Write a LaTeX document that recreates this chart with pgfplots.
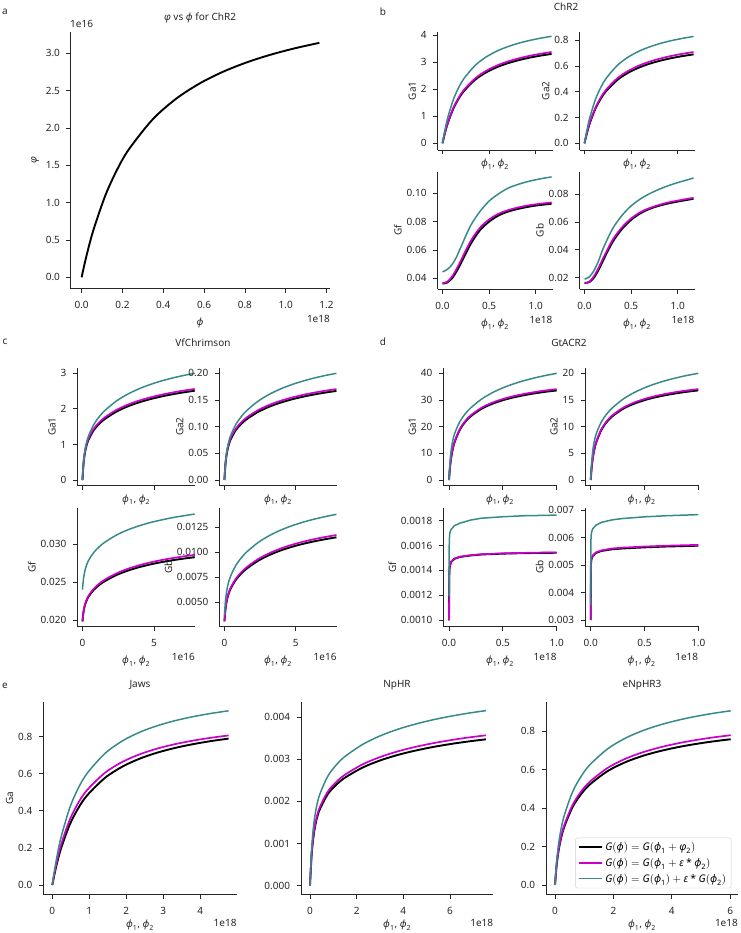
\documentclass[border=0pt]{standalone}
\usepackage{fontspec}
\setmainfont{Noto Sans}
\usepackage{amsmath}
\usepackage{pgfplots}
\usepackage{pgfplotstable}
\pgfplotsset{compat=1.18}
\newcommand{\tf}{\fontsize{10}{12}\selectfont}
\newcommand{\gi}[1]{\text{\itshape #1}}
\definecolor{mag}{RGB}{204,0,204}
\definecolor{tealc}{RGB}{56,138,138}
\definecolor{ax}{RGB}{38,38,38}
\pgfplotsset{
  base/.style={
    scale only axis, anchor=south west,
    axis x line*=bottom, axis y line*=left,
    tick align=outside, major tick length=4.5pt,
    every tick/.style={ax, line width=0.8pt},
    axis line style={ax, line width=0.9pt},
    tick label style={font=\tf, text=ax},
    xticklabel style={yshift=-5pt},
    yticklabel style={xshift=-3pt},
    label style={font=\tf, text=ax},
    xlabel style={yshift=-2.5pt},
    ylabel style={yshift=-2pt},
    scaled ticks=false, clip=false,
    xlabel={$\gi{ϕ}_{\text{1}}\text{, }\gi{ϕ}_{\text{2}}$},
  },
  top/.style={xticklabel=\empty, xlabel style={yshift=13pt}},
  bot/.style={xlabel style={yshift=4pt}},
  k/.style={black, line width=1.9pt, smooth},
  m/.style={mag, line width=1.7pt, smooth},
  t/.style={tealc, line width=1.5pt, smooth},
}
\newcommand{\xoff}[1]{\node[anchor=north east, inner sep=0pt, font=\tf, text=ax] at (rel axis cs:1,0) [yshift=-27pt] {#1};}
\newcommand{\xoffe}[1]{\node[anchor=north east, inner sep=0pt, font=\tf, text=ax] at (rel axis cs:1,0) [yshift=-25pt] {#1};}

\pgfplotstableread{
x y
0 0
0.01165 0.1465
0.0291 0.3470
0.0583 0.6381
0.1165 1.0989
0.1748 1.4473
0.233 1.7200
0.3495 2.1193
0.466 2.3976
0.5825 2.6026
0.699 2.7600
0.8155 2.8846
0.932 2.9857
1.0485 3.0693
1.165 3.1397
}\tabA

\pgfplotstableread{
x k m t
0 0 0 0
0.0117 0.1815 0.1854 0.2350
0.02925 0.4248 0.4338 0.5466
0.0585 0.7679 0.7842 0.9793
0.117 1.2881 1.3154 1.6209
0.1755 1.6638 1.6991 2.0738
0.234 1.9478 1.9891 2.4105
0.351 2.3489 2.3987 2.8779
0.468 2.6184 2.6739 3.1868
0.585 2.8120 2.8716 3.4062
0.702 2.9578 3.0205 3.5700
0.819 3.0716 3.1368 3.6970
0.936 3.1628 3.2299 3.7984
1.053 3.2376 3.3063 3.8811
1.17 3.3000 3.3700 3.9500
}\bGaA

\pgfplotstableread{
x k m t
0 0 0 0
0.0117 0.0380 0.0390 0.0494
0.02925 0.0889 0.0912 0.1149
0.0585 0.1608 0.1650 0.2058
0.117 0.2697 0.2767 0.3406
0.1755 0.3484 0.3575 0.4358
0.234 0.4079 0.4185 0.5065
0.351 0.4918 0.5046 0.6047
0.468 0.5483 0.5626 0.6696
0.585 0.5888 0.6041 0.7157
0.702 0.6193 0.6354 0.7502
0.819 0.6432 0.6600 0.7769
0.936 0.6623 0.6796 0.7982
1.053 0.6779 0.6956 0.8155
1.17 0.6910 0.7090 0.8300
}\bGaB

\pgfplotstableread{
x k m t
0 0.0362 0.0365 0.0445
0.05 0.0370 0.0375 0.0462
0.1 0.0398 0.0410 0.0495
0.15 0.0448 0.0465 0.0550
0.2 0.0510 0.0530 0.0625
0.3 0.0640 0.0660 0.0770
0.4 0.0738 0.0755 0.0870
0.5 0.0800 0.0815 0.0945
0.6 0.0843 0.0855 0.0995
0.7 0.0870 0.0880 0.1035
0.8 0.0888 0.0898 0.1060
0.9 0.0902 0.0912 0.1080
1.0 0.0913 0.0922 0.1095
1.1 0.0921 0.0930 0.1108
1.17 0.0926 0.0935 0.1115
}\bGf

\pgfplotstableread{
x k m t
0 0.0163 0.0160 0.0190
0.05 0.0168 0.0170 0.0205
0.1 0.0200 0.0210 0.0250
0.15 0.0255 0.0270 0.0320
0.2 0.0325 0.0340 0.0410
0.3 0.0455 0.0470 0.0550
0.4 0.0548 0.0560 0.0645
0.5 0.0615 0.0625 0.0715
0.6 0.0662 0.0670 0.0765
0.7 0.0694 0.0700 0.0803
0.8 0.0716 0.0722 0.0834
0.9 0.0733 0.0740 0.0860
1.0 0.0746 0.0753 0.0882
1.1 0.0758 0.0765 0.0901
1.17 0.0766 0.0773 0.0915
}\bGb

\pgfplotstableread{
x k m t
0 0 0 0
0.0785 0.4730 0.4899 0.5044
0.19625 0.8158 0.8441 0.8780
0.3925 1.1034 1.1398 1.2027
0.785 1.3987 1.4411 1.5542
1.1775 1.5808 1.6255 1.7809
1.57 1.7166 1.7627 1.9541
2.355 1.9180 1.9654 2.2154
3.14 2.0650 2.1131 2.4085
3.925 2.1790 2.2276 2.5594
4.71 2.2708 2.3195 2.6811
5.495 2.3461 2.3950 2.7814
6.28 2.4095 2.4587 2.8659
7.065 2.4636 2.5128 2.9381
7.85 2.5100 2.5593 3.0003
}\cGaA

\pgfplotstableread{
x k m t
0 0 0 0
0.0785 0.03147 0.03263 0.03363
0.19625 0.05428 0.05622 0.05854
0.3925 0.07341 0.07591 0.08018
0.785 0.09306 0.09598 0.10362
1.1775 0.10517 0.10826 0.11873
1.57 0.11421 0.11740 0.13028
2.355 0.12760 0.13090 0.14770
3.14 0.13738 0.14073 0.16057
3.925 0.14497 0.14836 0.17063
4.71 0.15108 0.15448 0.17875
5.495 0.15609 0.15951 0.18544
6.28 0.16031 0.16375 0.19107
7.065 0.16390 0.16735 0.19588
7.85 0.16699 0.17045 0.20000
}\cGaB

\pgfplotstableread{
x k m t
0 0.0198 0.0198 0.02400
0.0785 0.021108 0.021154 0.02554
0.19625 0.022094 0.022175 0.02670
0.3925 0.022976 0.023089 0.02774
0.785 0.023969 0.024116 0.02891
1.1775 0.024630 0.024800 0.02968
1.57 0.025141 0.025330 0.03028
2.355 0.025922 0.026138 0.03120
3.14 0.026503 0.026740 0.03189
3.925 0.026960 0.027212 0.03242
4.71 0.027328 0.027594 0.03286
5.495 0.027632 0.027908 0.03321
6.28 0.027889 0.028174 0.03352
7.065 0.028108 0.028401 0.03377
7.85 0.028300 0.028600 0.03400
}\cGf

\pgfplotstableread{
x k m t
0 0.0031 0.0031 0.0037
0.0785 0.004393 0.004428 0.005254
0.19625 0.005367 0.005429 0.006426
0.3925 0.006239 0.006325 0.007474
0.785 0.007220 0.007333 0.008654
1.1775 0.007873 0.008004 0.009439
1.57 0.008379 0.008523 0.010047
2.355 0.009150 0.009315 0.010974
3.14 0.009724 0.009906 0.011665
3.925 0.010175 0.010369 0.012207
4.71 0.010540 0.010744 0.012646
5.495 0.010840 0.011052 0.013006
6.28 0.011093 0.011312 0.013311
7.065 0.011310 0.011535 0.013572
7.85 0.011500 0.011730 0.013800
}\cGb

\pgfplotstableread{
x k m t
0 0 0 0
0.01 5.181 5.258 7.316
0.025 9.596 9.739 12.644
0.05 13.937 14.145 17.16
0.1 18.826 19.106 21.86
0.15 21.78 22.104 24.796
0.2 23.853 24.208 27.0
0.3 26.675 27.072 30.284
0.4 28.56 28.985 32.692
0.5 29.941 30.387 34.564
0.6 31.0 31.461 36.068
0.7 31.843 32.317 37.308
0.8 32.538 33.022 38.352
0.9 33.116 33.609 39.244
1.0 33.6 34.1 40.0
}\dGaA

\pgfplotstableread{
x k m t
0 0 0 0
0.01 2.591 2.629 3.658
0.025 4.798 4.869 6.322
0.05 6.969 7.072 8.58
0.1 9.413 9.553 10.93
0.15 10.89 11.052 12.398
0.2 11.927 12.104 13.5
0.3 13.338 13.536 15.142
0.4 14.28 14.493 16.346
0.5 14.971 15.193 17.282
0.6 15.5 15.73 18.034
0.7 15.922 16.158 18.654
0.8 16.269 16.511 19.176
0.9 16.558 16.804 19.622
1.0 16.8 17.05 20.0
}\dGaB

\pgfplotstableread{
x k m t
0 0.000998 0.0010 0.00119
0.002 0.001348 0.00135 0.00160
0.005 0.001418 0.00142 0.00168
0.01 0.001443 0.001445 0.00171
0.02 0.001468 0.00147 0.00173
0.05 0.001493 0.001495 0.00176
0.1 0.001508 0.00151 0.00178
0.2 0.00152 0.001522 0.001805
0.3 0.001528 0.00153 0.00182
0.5 0.001535 0.001537 0.001832
0.7 0.001539 0.001541 0.00184
1.0 0.001542 0.001545 0.001845
}\dGf

\pgfplotstableread{
x k m t
0 0.0030 0.0030 0.00355
0.002 0.00498 0.0050 0.0059
0.005 0.00516 0.00518 0.0061
0.01 0.00525 0.00527 0.00622
0.02 0.00533 0.00535 0.00632
0.05 0.00544 0.00546 0.00645
0.1 0.00551 0.00553 0.00655
0.2 0.00557 0.00560 0.00664
0.3 0.00560 0.00563 0.00669
0.5 0.00564 0.00567 0.00675
0.7 0.00567 0.00570 0.00679
1.0 0.00570 0.00573 0.00683
}\dGb

\pgfplotstableread{
x k m t
0 0 0 0
0.0477 0.04801 0.05372 0.06414
0.11925 0.11145 0.12370 0.14736
0.2385 0.19918 0.21864 0.25962
0.477 0.32848 0.35478 0.41939
0.7155 0.41917 0.44769 0.52761
0.954 0.48631 0.51516 0.60578
1.431 0.57906 0.60655 0.71113
1.908 0.64010 0.66559 0.77886
2.385 0.68332 0.70688 0.82607
2.862 0.71553 0.73737 0.86084
3.339 0.74046 0.76080 0.88753
3.816 0.76032 0.77940 0.90866
4.293 0.77654 0.79450 0.92581
4.77 0.79000 0.80700 0.94000
}\eJaws

\pgfplotstableread{
x k m t
0 0 0 0
0.0754 0.000773 0.000794 0.000925
0.1885 0.001318 0.001354 0.001577
0.377 0.001754 0.001802 0.002098
0.754 0.002166 0.002225 0.002590
1.131 0.002400 0.002466 0.002871
1.508 0.002568 0.002638 0.003072
2.262 0.002807 0.002883 0.003357
3.016 0.002976 0.003057 0.003560
3.77 0.003106 0.003191 0.003716
4.524 0.003209 0.003297 0.003839
5.278 0.003294 0.003384 0.003941
6.032 0.003365 0.003457 0.004025
6.786 0.003425 0.003519 0.004097
7.54 0.003476 0.003571 0.004158
}\eNp

\pgfplotstableread{
x k m t
0 0 0 0
0.0602 0.1100 0.1130 0.1315
0.1505 0.2029 0.2085 0.2425
0.301 0.2955 0.3037 0.3533
0.602 0.4047 0.4159 0.4838
0.903 0.4738 0.4870 0.5664
1.204 0.5235 0.5381 0.6259
1.806 0.5920 0.6084 0.7077
2.408 0.6377 0.6554 0.7624
3.01 0.6709 0.6895 0.8020
3.612 0.6961 0.7154 0.8322
4.214 0.7161 0.7360 0.8561
4.816 0.7323 0.7526 0.8755
5.418 0.7458 0.7665 0.8916
6.02 0.7570 0.7780 0.9050
}\eNpT

\newcommand{\three}[1]{%
  \addplot[k] table[x=x,y=k]{#1};
  \addplot[m] table[x=x,y=m]{#1};
  \addplot[t] table[x=x,y=t]{#1};
}
\newcommand{\threesharp}[1]{%
  \addplot[k, sharp plot] table[x=x,y=k]{#1};
  \addplot[m, sharp plot] table[x=x,y=m]{#1};
  \addplot[t, sharp plot] table[x=x,y=t]{#1};
}

\begin{document}
\begin{tikzpicture}
\path[use as bounding box] (0,0) rectangle (740pt,-933pt);

% ---------- a ----------
\begin{axis}[base, at={(70pt,-288pt)}, width=260pt, height=256pt,
  xmin=-0.057, xmax=1.217, ymin=-0.143, ymax=3.285,
  xtick={0,0.2,0.4,0.6,0.8,1.0,1.2}, xticklabels={0.0,0.2,0.4,0.6,0.8,1.0,1.2},
  ytick={0,0.5,1,1.5,2,2.5,3}, yticklabels={0.0,0.5,1.0,1.5,2.0,2.5,3.0},
  yticklabel style={xshift=1pt}, ylabel style={yshift=2pt},
  xlabel={\itshape ϕ}, ylabel={\itshape φ}]
\addplot[black, line width=1.9pt, smooth] table[x=x,y=y]{\tabA};
\xoff{1e18}
\node[anchor=south west, inner sep=0pt, font=\tf, text=ax] at (rel axis cs:0,1) [yshift=4pt] {1e16};
\end{axis}

% ---------- b ----------
\begin{axis}[base, top, at={(437.5pt,-150pt)}, width=115pt, height=118.3pt,
  xmin=-0.054, xmax=1.18, ymin=-0.25, ymax=4.12,
  xtick={0,0.5,1},
  ytick={0,1,2,3,4}, yticklabels={0,1,2,3,4}, ylabel={Ga1}]
\three{\bGaA}
\end{axis}
\begin{axis}[base, top, at={(579.5pt,-150pt)}, width=115pt, height=118.3pt,
  xmin=-0.054, xmax=1.18, ymin=-0.052, ymax=0.867,
  xtick={0,0.5,1},
  ytick={0,0.2,0.4,0.6,0.8}, yticklabels={0.0,0.2,0.4,0.6,0.8}, ylabel={Ga2}]
\three{\bGaB}
\end{axis}
\begin{axis}[base, at={(437.5pt,-289.3pt)}, width=115pt, height=117.6pt,
  xmin=-0.054, xmax=1.18, ymin=0.0322, ymax=0.1152,
  xtick={0,0.5,1}, xticklabels={0.0,0.5,1.0},
  ytick={0.04,0.06,0.08,0.10}, yticklabels={0.04,0.06,0.08,0.10}, ylabel={Gf}]
\three{\bGf}
\xoff{1e18}
\end{axis}
\begin{axis}[base, at={(579.5pt,-289.3pt)}, width=115pt, height=117.6pt,
  xmin=-0.054, xmax=1.18, ymin=0.0117, ymax=0.096,
  xtick={0,0.5,1}, xticklabels={0.0,0.5,1.0},
  ytick={0.02,0.04,0.06,0.08}, yticklabels={0.02,0.04,0.06,0.08}, ylabel={Gb}]
\three{\bGb}
\xoff{1e18}
\end{axis}

% ---------- c ----------
\begin{axis}[base, top, at={(77.3pt,-485pt)}, width=117.7pt, height=116.7pt,
  xmin=-0.36, xmax=7.87, ymin=-0.14, ymax=3.14,
  xtick={0,5},
  ytick={0,1,2,3}, yticklabels={0,1,2,3}, ylabel={Ga1}]
\three{\cGaA}
\end{axis}
\begin{axis}[base, top, at={(219.3pt,-485pt)}, width=117.4pt, height=116.7pt,
  xmin=-0.36, xmax=7.87, ymin=-0.0094, ymax=0.2094,
  xtick={0,5},
  ytick={0,0.05,0.1,0.15,0.2}, yticklabels={0.00,0.05,0.10,0.15,0.20}, ylabel={Ga2}]
\three{\cGaB}
\end{axis}
\begin{axis}[base, at={(77.3pt,-626pt)}, width=117.7pt, height=117.7pt,
  xmin=-0.36, xmax=7.87, ymin=0.0192, ymax=0.03476,
  xtick={0,5}, xticklabels={0,5},
  ytick={0.02,0.025,0.03}, yticklabels={0.020,0.025,0.030}, ylabel={Gf}]
\three{\cGf}
\xoff{1e16}
\end{axis}
\begin{axis}[base, at={(219.3pt,-626pt)}, width=117.4pt, height=117.7pt,
  xmin=-0.36, xmax=7.87, ymin=0.00263, ymax=0.0144,
  xtick={0,5}, xticklabels={0,5},
  ytick={0.005,0.0075,0.01,0.0125}, yticklabels={0.0050,0.0075,0.0100,0.0125}, ylabel={Gb}]
\three{\cGb}
\xoff{1e16}
\end{axis}

% ---------- d ----------
\begin{axis}[base, top, at={(443.3pt,-485pt)}, width=113.4pt, height=116.7pt,
  xmin=-0.053, xmax=1.0, ymin=-1.87, ymax=41.9,
  xtick={0,0.5,1},
  ytick={0,10,20,30,40}, yticklabels={0,10,20,30,40}, ylabel={Ga1}]
\three{\dGaA}
\end{axis}
\begin{axis}[base, top, at={(585pt,-485pt)}, width=113.3pt, height=116.7pt,
  xmin=-0.053, xmax=1.0, ymin=-0.94, ymax=20.94,
  xtick={0,0.5,1},
  ytick={0,5,10,15,20}, yticklabels={0,5,10,15,20}, ylabel={Ga2}]
\three{\dGaB}
\end{axis}
\begin{axis}[base, at={(443.3pt,-626pt)}, width=113.4pt, height=117.7pt,
  xmin=-0.053, xmax=1.0, ymin=0.000952, ymax=0.0019,
  xtick={0,0.5,1}, xticklabels={0.0,0.5,1.0},
  ytick={0.001,0.0012,0.0014,0.0016,0.0018}, yticklabels={0.0010,0.0012,0.0014,0.0016,0.0018}, ylabel={Gf}]
\threesharp{\dGf}
\xoff{1e18}
\end{axis}
\begin{axis}[base, at={(585pt,-626pt)}, width=113.3pt, height=117.7pt,
  xmin=-0.053, xmax=1.0, ymin=0.00278, ymax=0.00706,
  xtick={0,0.5,1}, xticklabels={0.0,0.5,1.0},
  ytick={0.003,0.004,0.005,0.006,0.007}, yticklabels={0.003,0.004,0.005,0.006,0.007}, ylabel={Gb}]
\threesharp{\dGb}
\xoff{1e18}
\end{axis}

% ---------- e ----------
\begin{axis}[base, bot, at={(43.3pt,-894pt)}, width=193.4pt, height=192.3pt,
  xmin=-0.244, xmax=4.99, ymin=-0.0485, ymax=0.989,
  xtick={0,1,2,3,4}, xticklabels={0,1,2,3,4},
  ytick={0,0.2,0.4,0.6,0.8}, yticklabels={0.0,0.2,0.4,0.6,0.8}, ylabel={Ga}]
\three{\eJaws}
\xoffe{1e18}
\end{axis}
\begin{axis}[base, bot, at={(301pt,-894pt)}, width=192.3pt, height=192.3pt,
  xmin=-0.386, xmax=7.86, ymin=-0.0002, ymax=0.00437,
  xtick={0,2,4,6}, xticklabels={0,2,4,6},
  ytick={0,0.001,0.002,0.003,0.004}, yticklabels={0.000,0.001,0.002,0.003,0.004}]
\three{\eNp}
\xoffe{1e18}
\end{axis}
\begin{axis}[base, bot, at={(546pt,-894pt)}, width=192pt, height=192.3pt,
  xmin=-0.309, xmax=6.27, ymin=-0.047, ymax=0.952,
  xtick={0,2,4,6}, xticklabels={0,2,4,6},
  ytick={0,0.2,0.4,0.6,0.8}, yticklabels={0.0,0.2,0.4,0.6,0.8},
  legend style={at={(0.965,0.03)}, anchor=south east, draw=black!18, rounded corners=2pt,
    font=\fontsize{10.5}{12}\selectfont, inner xsep=3pt, inner ysep=2.5pt, row sep=2pt,
    /tikz/every even column/.append style={column sep=5pt}},
  legend cell align=left,
  legend image code/.code={\draw[#1] (0pt,0pt) -- (23pt,0pt);}]
\addplot[k] table[x=x,y=k]{\eNpT};
\addlegendentry{$\gi{G}(\gi{ϕ}) = \gi{G}(\gi{ϕ}_{\text{1}} + \gi{φ}_{\text{2}})$}
\addplot[m] table[x=x,y=m]{\eNpT};
\addlegendentry{$\gi{G}(\gi{ϕ}) = \gi{G}(\gi{ϕ}_{\text{1}} + \gi{ε} \mathbin{\text{*}} \gi{ϕ}_{\text{2}})$}
\addplot[t] table[x=x,y=t]{\eNpT};
\addlegendentry{$\gi{G}(\gi{ϕ}) = \gi{G}(\gi{ϕ}_{\text{1}}) + \gi{ε} \mathbin{\text{*}} \gi{G}(\gi{ϕ}_{\text{2}})$}
\xoffe{1e18}
\end{axis}

% ---------- titles and panel letters ----------
\begin{scope}[every node/.style={font=\tf, text=ax, inner sep=0pt}]
\node at (200pt,-18pt) {{\itshape φ} vs {\itshape ϕ} for ChR2};
\node at (566pt,-7pt) {ChR2};
\node at (203pt,-343pt) {VfChrimson};
\node at (569pt,-343pt) {GtACR2};
\node at (140pt,-685pt) {Jaws};
\node at (397pt,-685pt) {NpHR};
\node at (642pt,-685pt) {eNpHR3};
\node[font=\tf\bfseries] at (5pt,-12pt) {a};
\node[font=\tf\bfseries] at (383pt,-12pt) {b};
\node[font=\tf\bfseries] at (5pt,-342pt) {c};
\node[font=\tf\bfseries] at (383pt,-342pt) {d};
\node[font=\tf\bfseries] at (5pt,-686pt) {e};
\end{scope}
\end{tikzpicture}
\end{document}
